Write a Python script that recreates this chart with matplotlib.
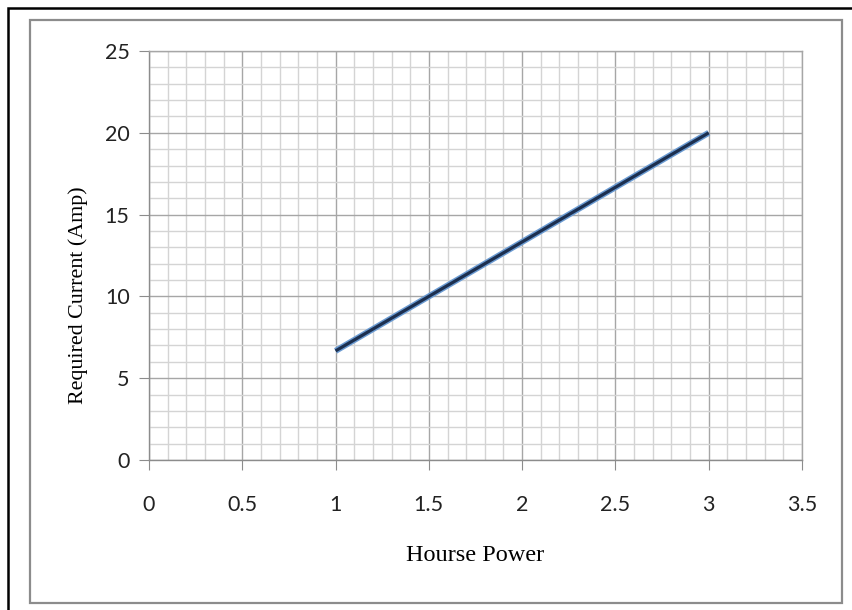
import matplotlib
matplotlib.use("Agg")
import matplotlib.pyplot as plt
from matplotlib.patches import Rectangle
from matplotlib.ticker import MultipleLocator

horse_power = [1, 1.5, 2, 2.5, 3]
current_amp = [6.67, 10.0, 13.33, 16.67, 20.0]
x_ticks = [0, 0.5, 1, 1.5, 2, 2.5, 3, 3.5]
x_tick_labels = ["0", "0.5", "1", "1.5", "2", "2.5", "3", "3.5"]
y_ticks = [0, 5, 10, 15, 20, 25]
y_tick_labels = ["0", "5", "10", "15", "20", "25"]

W, H = 852, 610
fig = plt.figure(figsize=(W / 100, H / 100), dpi=100)
fig.patch.set_facecolor("white")

# frame borders
fig.patches.append(Rectangle((8 / W, -0.1), 1.2, 1 - 8 / H + 0.1, transform=fig.transFigure,
                             fill=False, edgecolor="black", linewidth=1.8, zorder=0))
fig.patches.append(Rectangle((30 / W, 1 - 603 / H), (842 - 30) / W, (603 - 20) / H,
                             transform=fig.transFigure, fill=False, edgecolor="#8c8c8c",
                             linewidth=1.6, zorder=0))

ax = fig.add_axes([149 / W, 1 - 460 / H, (802 - 149) / W, (460 - 51) / H])
ax.set_xlim(0, 3.5)
ax.set_ylim(0, 25)
ax.xaxis.set_minor_locator(MultipleLocator(0.1))
ax.yaxis.set_minor_locator(MultipleLocator(1))
ax.grid(which="major", color="#a6a6a6", linewidth=1.0)
ax.grid(which="minor", color="#d4d4d4", linewidth=1.0)
ax.set_axisbelow(True)
for s in ax.spines.values():
    s.set_color("#a6a6a6")
    s.set_linewidth(1.0)
ax.spines["left"].set_color("#8c8c8c")
ax.spines["bottom"].set_color("#8c8c8c")

ax.tick_params(which="minor", length=0)
ax.tick_params(axis="x", which="major", length=7, color="#8c8c8c", pad=18)
ax.tick_params(axis="y", which="major", length=7, color="#8c8c8c", pad=7)
tick_font = {"family": "Lato", "size": 15.5, "color": "#222222"}
ax.set_xticks(x_ticks)
ax.set_xticklabels(x_tick_labels, fontdict=tick_font)
ax.set_yticks(y_ticks)
ax.set_yticklabels(y_tick_labels, fontdict=tick_font)

ax.plot(horse_power, current_amp, color="#6b9bd2", linewidth=4.4, solid_capstyle="butt", zorder=3)
ax.plot(horse_power, current_amp, color="#1c2f4f", linewidth=2.3, solid_capstyle="butt", zorder=4)

ax.set_xlabel("Hourse Power", family="Liberation Serif", fontsize=17.5, labelpad=22)
ax.set_ylabel("Required Current (Amp)", family="Liberation Serif", fontsize=15.8)
ax.yaxis.set_label_coords((88 - 149) / 653, (460 - 295) / 409)

fig.savefig("out.png", dpi=100)
